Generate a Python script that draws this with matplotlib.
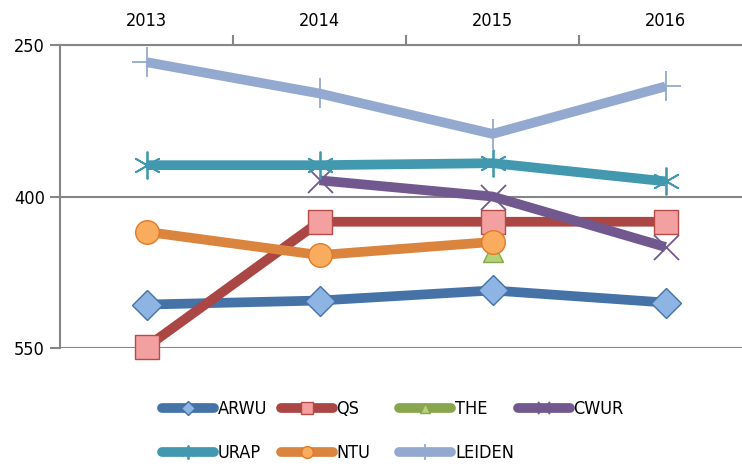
import matplotlib
matplotlib.use('Agg')
import matplotlib.pyplot as plt
import numpy as np

plt.rcParams['font.family'] = ['DejaVu Sans']
plt.rcParams['font.stretch'] = 'condensed'

YEARS = ['2013', '2014', '2015', '2016']

# ranking positions (None = no value that year)
ARWU = [507, 503, 493, 505]
QS = [549, 425, 425, 425]
THE = [None, None, 455, None]
CWUR = [None, 384, 400, 450]
URAP = [369, 369, 367, 385]
NTU = [435, 458, 445, None]
LEIDEN = [267, 298, 338, 291]

SERIES = [
    ('ARWU', ARWU, '#4572A7', dict(marker='D', ms=15, mfc='#8DB4E2', mec='#4572A7')),
    ('QS', QS, '#AA4643', dict(marker='s', ms=17, mfc='#F2A0A0', mec='#B84A47')),
    ('THE', THE, '#89A54E', dict(marker='^', ms=15, mfc='#B3D27A', mec='#89A54E')),
    ('CWUR', CWUR, '#71588F', dict(marker='x', ms=18, mew=1.3, mec='#71588F')),
    ('URAP', URAP, '#4198AF', dict(marker=(6, 2, 0), ms=20, mew=1.3, mec='#4198AF')),
    ('NTU', NTU, '#DB843D', dict(marker='o', ms=17, mfc='#F9AC5E', mec='#E07A2A')),
    ('LEIDEN', LEIDEN, '#93A9CF', dict(marker='+', ms=22, mew=1.3, mec='#93A9CF')),
]

fig = plt.figure(figsize=(7.42, 4.68), dpi=100)
ax = fig.add_axes([60/742, 1-348/468, 692/742, 303/468])

x = np.arange(len(YEARS))
for name, vals, col, mk in SERIES:
    xs = [i for i, v in enumerate(vals) if v is not None]
    ys = [v for v in vals if v is not None]
    ax.plot(xs, ys, color=col, lw=7, solid_capstyle='butt',
            solid_joinstyle='round', clip_on=False, zorder=3, **mk)

ax.set_xlim(-0.5, 3.5)
ax.set_ylim(550, 250)
ax.set_yticks([250, 400, 550])
ax.yaxis.grid(True, color='#868686', lw=1.5)
ax.set_axisbelow(True)

ax.xaxis.tick_top()
ax.set_xticks(x)
ax.set_xticklabels(YEARS)
ax.set_xticks([0.5, 1.5, 2.5], minor=True)
ax.tick_params(axis='x', which='major', length=0, pad=11, labelsize=13)
ax.tick_params(axis='x', which='minor', length=7, width=1.5, color='#868686', direction='out')
ax.tick_params(axis='y', length=7, width=1.5, color='#868686', labelsize=13, pad=4)

for s in ['right', 'bottom']:
    ax.spines[s].set_visible(False)
for s in ['left', 'top']:
    ax.spines[s].set_color('#868686')
    ax.spines[s].set_linewidth(1.5)

leg_handles = {}
for (name, vals, col, mk) in SERIES:
    small = dict(mk)
    small['ms'] = mk['ms'] * 0.5
    lh, = ax.plot([], [], color=col, lw=7, solid_capstyle='round', **small)
    leg_handles[name] = lh

# one legend per column so the columns sit at even spacing
columns = [['ARWU', 'URAP'], ['QS', 'NTU'], ['THE', 'LEIDEN'], ['CWUR']]
for i, names in enumerate(columns):
    fig.legend([leg_handles[n] for n in names], names, loc='upper left',
               bbox_to_anchor=((162 + 118.5 * i) / 742, 1 - 400 / 468),
               frameon=False, fontsize=13, handlelength=2.9, handletextpad=0.2,
               labelspacing=1.45, borderaxespad=0, borderpad=0)

fig.savefig('out.png', dpi=100)
